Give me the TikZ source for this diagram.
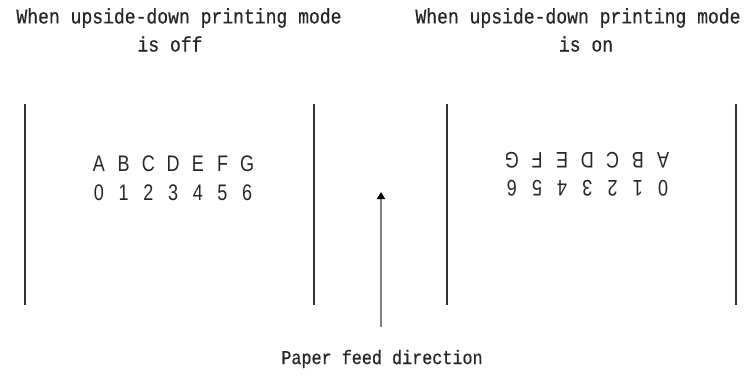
\documentclass[tikz,border=0pt]{standalone}
\usepackage{fontspec}
\setmainfont{Liberation Sans}
\newfontfamily\titlefont[FakeStretch=0.86,FakeBold=0.6]{Liberation Mono}
\usetikzlibrary{arrows.meta}
\begin{document}
\begin{tikzpicture}[x=1pt,y=-1pt,
  titletext/.style={inner sep=0pt,font=\titlefont\fontsize{21}{23}\selectfont,text=black!85},
  labeltext/.style={inner sep=0pt,font=\titlefont\fontsize{19.5}{21}\selectfont,text=black!85},
  glyph/.style={inner sep=0pt,font=\fontsize{22.5}{24}\selectfont,text=black!85,xscale=0.8},
  flipglyph/.style={glyph,rotate=180},
  edgeline/.style={line width=1.6pt,draw=black!80},
  feedarrow/.style={line width=2.2pt,draw=black!50,-{Triangle[length=7pt,width=8pt,fill=black,color=black]}}]
\useasboundingbox (0,0) rectangle (749,375);
% titles
\node[titletext] (t1a) at (179,18) {When upside-down printing mode};
\node[titletext] (t1b) at (170,44) {is off};
\node[titletext] (t2a) at (578,18) {When upside-down printing mode};
\node[titletext] (t2b) at (586,44) {is on};
% paper edges
\foreach \xx/\nm in {25/la,314/lb,447/lc,736/ld}{
  \coordinate (\nm top) at (\xx,104);
  \coordinate (\nm bot) at (\xx,305);
  \draw[edgeline] (\nm top) -- (\nm bot);
}
% normal text
\foreach \ch [count=\i from 0] in {A,B,C,D,E,F,G}{
  \node[glyph] (n\i) at (99+24.7*\i,164) {\ch};
}
\foreach \ch [count=\i from 0] in {0,1,2,3,4,5,6}{
  \node[glyph] (m\i) at (99+24.7*\i,193) {\ch};
}
% upside-down text
\foreach \ch [count=\i from 0] in {A,B,C,D,E,F,G}{
  \node[flipglyph] (u\i) at (663-25.2*\i,160.5) {\ch};
}
\foreach \ch [count=\i from 0] in {0,1,2,3,4,5,6}{
  \node[flipglyph] (v\i) at (663-25.2*\i,188) {\ch};
}
% feed arrow
\coordinate (fbot) at (381,327);
\coordinate (ftop) at (381,192);
\draw[feedarrow] (fbot) -- (ftop);
\node[labeltext] (feed) at (382,359) {Paper feed direction};
\end{tikzpicture}
\end{document}
